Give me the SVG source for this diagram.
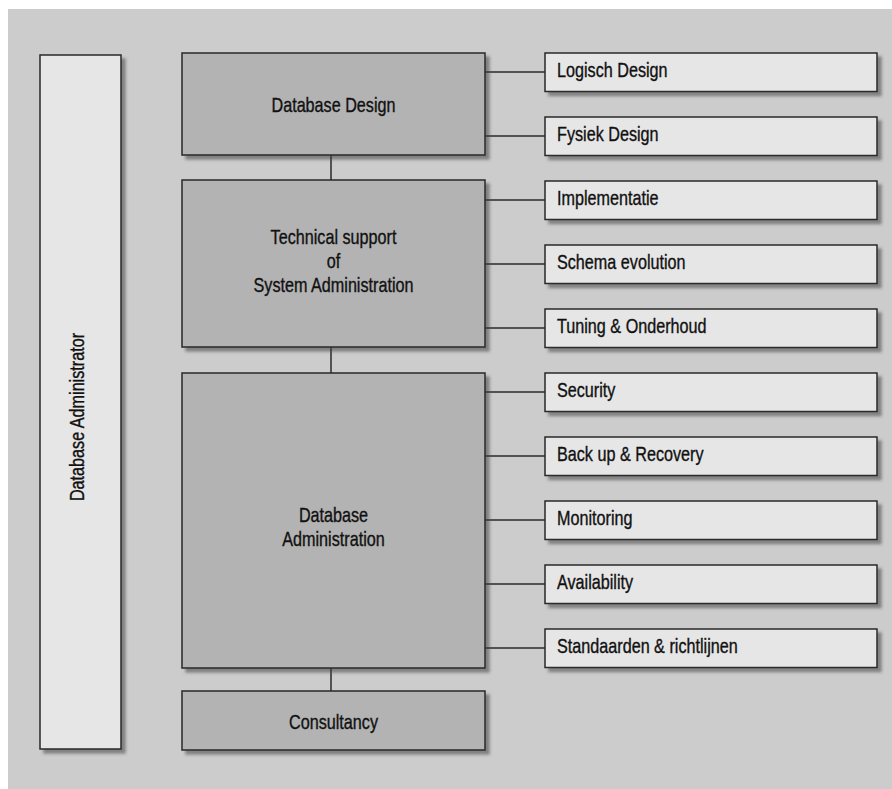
<svg xmlns="http://www.w3.org/2000/svg" width="892" height="789" viewBox="0 0 892 789">
<defs>
<filter id="sh" x="-10%" y="-10%" width="130%" height="130%">
<feDropShadow dx="4" dy="4" stdDeviation="1.5" flood-color="#444" flood-opacity="0.55"/>
</filter>
</defs>
<style>
.box{stroke:#2a2a2a;stroke-width:1.5;filter:url(#sh)}
.main{fill:#b3b3b3}
.sub{fill:#e6e6e6}
.t{font-family:"Liberation Sans",Arial,sans-serif;font-size:19.5px;fill:#111;stroke:#111;stroke-width:0.35}
.c{text-anchor:middle}
.ln{stroke:#2a2a2a;stroke-width:1.5;fill:none}
</style>
<rect x="0" y="0" width="892" height="789" fill="#ffffff"/>
<rect x="8" y="9" width="884" height="780" fill="#cccccc"/>
<g id="connectors">
<line class="ln" x1="331" y1="155" x2="331" y2="180"/>
<line class="ln" x1="331" y1="347" x2="331" y2="373"/>
<line class="ln" x1="331" y1="668" x2="331" y2="691"/>
<line class="ln" x1="485" y1="72" x2="545" y2="72"/>
<line class="ln" x1="485" y1="136" x2="545" y2="136"/>
<line class="ln" x1="485" y1="200" x2="545" y2="200"/>
<line class="ln" x1="485" y1="264" x2="545" y2="264"/>
<line class="ln" x1="485" y1="328" x2="545" y2="328"/>
<line class="ln" x1="485" y1="392" x2="545" y2="392"/>
<line class="ln" x1="485" y1="456" x2="545" y2="456"/>
<line class="ln" x1="485" y1="520" x2="545" y2="520"/>
<line class="ln" x1="485" y1="584" x2="545" y2="584"/>
<line class="ln" x1="485" y1="648" x2="545" y2="648"/>
</g>
<g id="dba">
<rect class="box sub" x="40" y="55" width="81" height="694"/>
<text class="t c" transform="translate(84,417) rotate(-90) scale(0.83,1)">Database Administrator</text>
</g>
<g id="database-design">
<rect class="box main" x="182" y="53" width="303" height="102"/>
<text class="t c" transform="translate(333.5,112) scale(0.83,1)">Database Design</text>
</g>
<g id="technical-support">
<rect class="box main" x="182" y="180" width="303" height="167"/>
<text class="t c" transform="translate(333.5,244) scale(0.83,1)">Technical support</text>
<text class="t c" transform="translate(333.5,268) scale(0.83,1)">of</text>
<text class="t c" transform="translate(333.5,292) scale(0.83,1)">System Administration</text>
</g>
<g id="database-administration">
<rect class="box main" x="182" y="373" width="303" height="295"/>
<text class="t c" transform="translate(333.5,522) scale(0.83,1)">Database</text>
<text class="t c" transform="translate(333.5,546) scale(0.83,1)">Administration</text>
</g>
<g id="consultancy">
<rect class="box main" x="182" y="691" width="303" height="59"/>
<text class="t c" transform="translate(333.5,729) scale(0.83,1)">Consultancy</text>
</g>
<g id="logisch-design">
<rect class="box sub" x="545" y="53" width="332" height="38.5"/>
<text class="t" transform="translate(557,77) scale(0.83,1)">Logisch Design</text>
</g>
<g id="fysiek-design">
<rect class="box sub" x="545" y="117" width="332" height="38.5"/>
<text class="t" transform="translate(557,141) scale(0.83,1)">Fysiek Design</text>
</g>
<g id="implementatie">
<rect class="box sub" x="545" y="181" width="332" height="38.5"/>
<text class="t" transform="translate(557,205) scale(0.83,1)">Implementatie</text>
</g>
<g id="schema-evolution">
<rect class="box sub" x="545" y="245" width="332" height="38.5"/>
<text class="t" transform="translate(557,269) scale(0.83,1)">Schema evolution</text>
</g>
<g id="tuning">
<rect class="box sub" x="545" y="309" width="332" height="38.5"/>
<text class="t" transform="translate(557,333) scale(0.83,1)">Tuning &amp; Onderhoud</text>
</g>
<g id="security">
<rect class="box sub" x="545" y="373" width="332" height="38.5"/>
<text class="t" transform="translate(557,397) scale(0.83,1)">Security</text>
</g>
<g id="backup">
<rect class="box sub" x="545" y="437" width="332" height="38.5"/>
<text class="t" transform="translate(557,461) scale(0.83,1)">Back up &amp; Recovery</text>
</g>
<g id="monitoring">
<rect class="box sub" x="545" y="501" width="332" height="38.5"/>
<text class="t" transform="translate(557,525) scale(0.83,1)">Monitoring</text>
</g>
<g id="availability">
<rect class="box sub" x="545" y="565" width="332" height="38.5"/>
<text class="t" transform="translate(557,589) scale(0.83,1)">Availability</text>
</g>
<g id="standaarden">
<rect class="box sub" x="545" y="629" width="332" height="38.5"/>
<text class="t" transform="translate(557,653) scale(0.83,1)">Standaarden &amp; richtlijnen</text>
</g>
</svg>
